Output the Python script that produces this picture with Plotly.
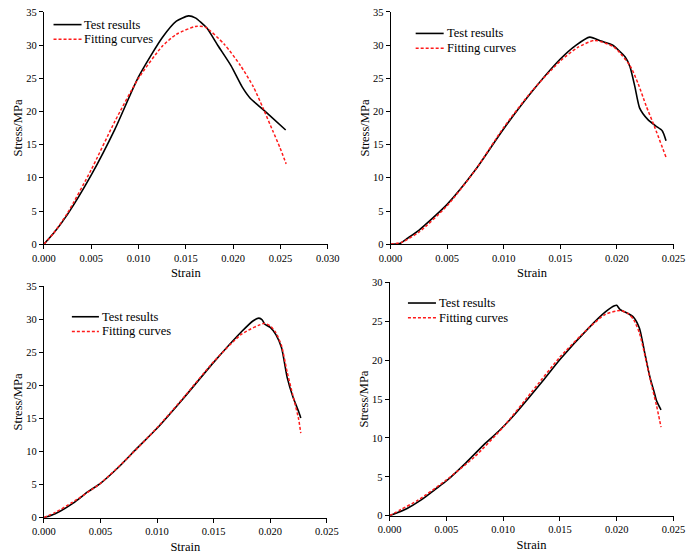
import plotly.graph_objects as go

# ---------------- data ----------------
# Panel 1 (top-left)
p1_test_x = [0.0, 0.001, 0.0025, 0.005, 0.0075, 0.010, 0.0125, 0.014, 0.01528, 0.016, 0.0172,
             0.0184, 0.01977, 0.02095, 0.0218, 0.02283, 0.02385, 0.02555]
p1_test_y = [0.0, 1.6, 4.5, 10.4, 17.3, 25.2, 31.1, 33.6, 34.4, 34.1, 32.6,
             29.9, 26.9, 23.7, 22.0, 20.7, 19.4, 17.2]
p1_fit_x = [0.0, 0.001, 0.0025, 0.005, 0.0075, 0.010, 0.0125, 0.01398, 0.016, 0.01704, 0.01908,
            0.02078, 0.02214, 0.02316, 0.02418, 0.02493, 0.0256]
p1_fit_y = [0.0, 1.6, 4.7, 11.2, 18.5, 25.0, 29.8, 31.6, 32.8, 32.7, 30.1,
            26.9, 23.7, 20.5, 17.1, 14.6, 12.1]

# Panel 2 (top-right)
p2_test_x = [0.0, 0.0008, 0.0015, 0.0025, 0.005, 0.0075, 0.010, 0.0125, 0.015, 0.0164, 0.0176,
             0.0186, 0.0196, 0.02073, 0.02116, 0.02159, 0.02201, 0.02272, 0.02344, 0.024, 0.02434]
p2_test_y = [0.0, 0.1, 0.9, 2.1, 6.0, 11.2, 17.4, 23.0, 27.9, 30.0, 31.2,
             30.6, 30.0, 28.2, 26.7, 23.7, 20.5, 18.8, 17.8, 17.1, 15.6]
p2_fit_x = [0.0, 0.001, 0.0025, 0.005, 0.0075, 0.010, 0.0125, 0.015, 0.0165, 0.01803, 0.01974,
            0.02116, 0.02187, 0.02259, 0.0233, 0.02434]
p2_fit_y = [0.0, 0.3, 1.8, 5.8, 11.2, 17.6, 23.1, 27.6, 29.6, 30.7, 29.7,
            26.9, 24.2, 20.8, 17.8, 13.1]

# Panel 3 (bottom-left)
p3_test_x = [0.0, 0.001, 0.00259, 0.00387, 0.005, 0.00657, 0.00828, 0.00998, 0.0124,
             0.015, 0.0175, 0.0185, 0.019, 0.0193, 0.0195, 0.020, 0.0205, 0.021, 0.0215,
             0.022, 0.0225, 0.0227]
p3_test_y = [0.0, 0.6, 2.2, 3.9, 5.2, 7.6, 10.6, 13.5, 18.2,
             23.5, 28.2, 29.8, 30.2, 29.9, 29.3, 28.8, 27.7, 25.7, 21.2,
             18.3, 16.1, 15.1]
p3_fit_x = [0.0, 0.001, 0.0025, 0.005, 0.0075, 0.010, 0.0125, 0.015, 0.0175, 0.0195,
            0.020, 0.0205, 0.021, 0.0215, 0.022, 0.0225, 0.0227]
p3_fit_y = [0.0, 0.8, 2.3, 5.2, 9.2, 13.6, 18.5, 23.6, 27.8, 29.4,
            29.0, 28.0, 26.0, 22.0, 18.5, 15.0, 12.8]

# Panel 4 (bottom-right)
p4_test_x = [0.0, 0.0015, 0.00275, 0.00402, 0.00502, 0.00672, 0.00842, 0.00955, 0.01069, 0.01352,
             0.015, 0.0175, 0.019, 0.0198, 0.020, 0.0203, 0.021, 0.0215, 0.022, 0.0225,
             0.0228, 0.023, 0.0233, 0.0235, 0.0239]
p4_test_y = [0.0, 0.9, 2.0, 3.4, 4.5, 6.8, 9.3, 10.8, 12.5, 17.4,
             20.1, 24.1, 26.2, 27.0, 27.05, 26.5, 26.0, 25.5, 24.1, 20.7,
             18.6, 17.4, 15.9, 14.8, 13.6]
p4_fit_x = [0.0, 0.001, 0.0025, 0.005, 0.0075, 0.010, 0.0125, 0.015, 0.0175, 0.019, 0.0203,
            0.021, 0.0215, 0.022, 0.0225, 0.023, 0.0235, 0.0239]
p4_fit_y = [0.0, 0.8, 2.0, 4.6, 7.6, 11.4, 15.9, 20.4, 24.1, 25.9, 26.4,
            26.0, 25.2, 23.5, 20.5, 17.2, 14.2, 11.4]

series_names = ["Test results", "Fitting curves"]

panels = [
    (p1_test_x, p1_test_y, p1_fit_x, p1_fit_y),
    (p2_test_x, p2_test_y, p2_fit_x, p2_fit_y),
    (p3_test_x, p3_test_y, p3_fit_x, p3_fit_y),
    (p4_test_x, p4_test_y, p4_fit_x, p4_fit_y),
]
x_ranges = [[0, 0.030], [0, 0.025], [0, 0.025], [0, 0.025]]
y_ranges = [[0, 35], [0, 35], [0, 35], [0, 30]]

# ---------------- layout geometry (pixels) ----------------
W, H = 700, 559
# (left, right, top, bottom) in pixels
boxes = [(33, 327, 7, 244), (392, 685, 7, 244), (33, 326, 287, 523), (391, 685, 283, 521)]
# legend: (line x0, line x1, first row y, row gap)
legend_geo = [(43, 72, 20, 15), (418, 447, 29, 15), (62, 90, 318, 15), (410, 439, 304, 15)]

FONT = "Liberation Serif"
BLACK_LINE = dict(color="black", width=1.6)
RED_LINE = dict(color="#ff1a1a", width=1.5, dash="3px,2px")

fig = go.Figure()
for i, (tx, ty, fx, fy) in enumerate(panels):
    n = "" if i == 0 else str(i + 1)
    fig.add_trace(go.Scatter(x=tx, y=ty, mode="lines", name=series_names[0],
                             line=dict(**BLACK_LINE, shape="spline", smoothing=0.6),
                             xaxis="x" + n, yaxis="y" + n, showlegend=False))
    fig.add_trace(go.Scatter(x=fx, y=fy, mode="lines", name=series_names[1],
                             line=dict(**RED_LINE, shape="spline", smoothing=0.6),
                             xaxis="x" + n, yaxis="y" + n, showlegend=False))

layout = dict(
    width=W, height=H,
    margin=dict(l=0, r=0, t=0, b=0),
    paper_bgcolor="white", plot_bgcolor="white",
    font=dict(family=FONT, color="black", size=12),
    showlegend=False,
)
shapes = []
annotations = []
for i in range(4):
    n = "" if i == 0 else str(i + 1)
    l, r, t, b = boxes[i]
    layout["xaxis" + n] = dict(
        domain=[l / W, r / W], range=x_ranges[i], anchor="y" + n,
        tickformat=".3f", dtick=0.005, tick0=0,
        showgrid=False, zeroline=False, showline=True, linecolor="black", linewidth=1,
        ticks="outside", ticklen=4, tickcolor="black", tickwidth=1,
        tickfont=dict(family=FONT, size=10.5),
        title=dict(text="Strain", font=dict(family=FONT, size=12.5), standoff=5),
    )
    layout["yaxis" + n] = dict(
        domain=[(H - b) / H, (H - t) / H], range=y_ranges[i], anchor="x" + n,
        dtick=5, tick0=0,
        showgrid=False, zeroline=False, showline=True, linecolor="black", linewidth=1,
        ticks="outside", ticklen=4, tickcolor="black", tickwidth=1,
        tickfont=dict(family=FONT, size=10.5),
        title=dict(text="Stress/MPa", font=dict(family=FONT, size=12.5), standoff=0),
    )
    # manual legend
    x0, x1, y0, gap = legend_geo[i]
    for k, style in enumerate([BLACK_LINE, RED_LINE]):
        yy = (H - (y0 + k * gap)) / H
        shapes.append(dict(type="line", xref="paper", yref="paper",
                           x0=x0 / W, x1=x1 / W, y0=yy, y1=yy, line=style))
        annotations.append(dict(xref="paper", yref="paper", x=(x1 + 1) / W, y=yy,
                                xanchor="left", yanchor="middle", showarrow=False,
                                text=series_names[k], font=dict(family=FONT, size=12.5)))

layout["shapes"] = shapes
layout["annotations"] = annotations
fig.update_layout(**layout)
fig.write_html("out.html")
